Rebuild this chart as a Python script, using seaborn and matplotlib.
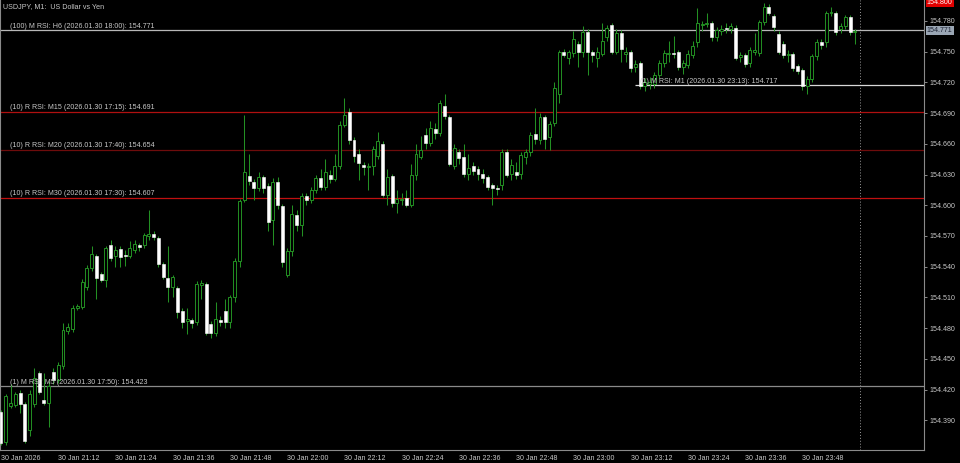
import numpy as np
import pandas as pd
import seaborn as sns
import matplotlib.pyplot as plt
from matplotlib.transforms import blended_transform_factory

# --- data: USDJPY M1, 30 Jan 2026 21:00 - 23:59 (prices in points above 154.000)
BASE = 154.0
open_pts = [398, 369, 404, 405, 417, 406, 380, 406, 436, 410,
            407, 437, 429, 443, 477, 479, 500, 501, 520, 539,
            550, 533, 527, 561, 550, 557, 551, 550, 556, 561,
            561, 570, 572, 568, 543, 529, 520, 519, 497, 487,
            488, 486, 522, 523, 484, 475, 488, 497, 486, 510,
            546, 605, 629, 623, 617, 628, 619, 586, 623, 599,
            532, 555, 590, 581, 609, 605, 615, 627, 618, 630,
            626, 638, 678, 691, 664, 650, 639, 637, 638, 648,
            660, 610, 629, 602, 605, 607, 600, 630, 647, 669,
            661, 674, 671, 697, 686, 638, 652, 647, 631, 638,
            635, 631, 628, 620, 617, 620, 652, 631, 632, 631,
            647, 652, 670, 664, 686, 667, 680, 709, 750, 744,
            749, 758, 750, 769, 750, 744, 748, 764, 776, 750,
            768, 748, 750, 735, 739, 716, 718, 718, 727, 739,
            748, 749, 750, 735, 737, 747, 759, 776, 777, 778,
            764, 770, 773, 772, 773, 745, 747, 739, 750, 749,
            779, 794, 785, 767, 758, 747, 748, 736, 732, 716,
            723, 746, 759, 759, 788, 788, 772, 775, 784, 769]
high_pts = [400, 416, 425, 418, 420, 408, 420, 441, 438, 436,
            428, 441, 447, 485, 485, 503, 504, 528, 542, 560,
            552, 535, 560, 566, 560, 560, 556, 565, 566, 563,
            573, 595, 575, 570, 545, 560, 532, 521, 500, 500,
            490, 526, 527, 525, 487, 505, 492, 508, 512, 548,
            606, 688, 650, 626, 632, 630, 622, 627, 628, 601,
            558, 600, 595, 612, 612, 618, 630, 635, 645, 634,
            650, 682, 705, 695, 667, 655, 642, 641, 658, 672,
            663, 635, 631, 615, 612, 615, 640, 660, 668, 675,
            682, 680, 703, 709, 688, 660, 655, 660, 650, 642,
            638, 635, 630, 622, 620, 655, 655, 645, 642, 652,
            655, 672, 695, 690, 688, 682, 720, 752, 753, 752,
            770, 760, 775, 772, 752, 755, 778, 776, 778, 772,
            771, 755, 752, 742, 741, 724, 725, 730, 742, 752,
            760, 765, 752, 742, 752, 760, 793, 780, 788, 780,
            774, 776, 778, 778, 776, 750, 749, 755, 768, 781,
            798, 797, 787, 770, 760, 752, 750, 738, 734, 726,
            748, 762, 762, 790, 794, 790, 778, 786, 786, 772]
low_pts = [366, 366, 402, 403, 397, 368, 375, 403, 416, 405,
           383, 425, 426, 440, 474, 476, 498, 499, 517, 536,
           508, 525, 520, 546, 540, 540, 541, 548, 553, 555,
           558, 566, 566, 540, 528, 505, 510, 490, 480, 474,
           480, 483, 508, 473, 470, 472, 482, 480, 480, 505,
           540, 603, 620, 605, 614, 612, 575, 561, 596, 540,
           530, 550, 575, 570, 600, 602, 612, 615, 615, 622,
           624, 635, 676, 660, 642, 625, 630, 615, 630, 645,
           608, 600, 598, 592, 600, 598, 598, 625, 645, 655,
           658, 665, 668, 684, 638, 635, 640, 628, 625, 630,
           625, 622, 615, 600, 610, 615, 628, 625, 626, 626,
           640, 648, 660, 660, 655, 654, 677, 700, 745, 738,
           745, 735, 745, 727, 740, 735, 746, 760, 748, 748,
           740, 740, 730, 730, 714, 712, 714, 715, 724, 735,
           740, 744, 732, 728, 734, 744, 755, 770, 774, 760,
           760, 766, 768, 768, 742, 740, 735, 735, 747, 746,
           776, 786, 770, 748, 744, 740, 731, 728, 713, 709,
           720, 742, 753, 755, 785, 766, 768, 772, 766, 758]
close_pts = [368, 414, 407, 416, 406, 370, 416, 431, 418, 407,
             423, 429, 444, 478, 481, 500, 502, 525, 539, 552,
             529, 527, 558, 548, 556, 549, 550, 558, 562, 559,
             571, 572, 569, 543, 530, 520, 530, 496, 486, 489,
             485, 523, 524, 475, 475, 489, 486, 486, 510, 546,
             604, 632, 624, 617, 628, 617, 584, 623, 600, 545,
             555, 591, 581, 609, 605, 615, 627, 618, 632, 626,
             638, 678, 688, 664, 648, 641, 637, 638, 655, 663,
             610, 628, 602, 606, 605, 600, 630, 650, 654, 661,
             675, 671, 700, 687, 640, 656, 646, 631, 636, 633,
             631, 627, 618, 617, 616, 652, 630, 639, 630, 649,
             652, 669, 665, 686, 665, 679, 715, 750, 747, 750,
             762, 750, 769, 750, 747, 750, 760, 773, 750, 768,
             753, 750, 734, 738, 716, 720, 720, 727, 739, 749,
             749, 748, 735, 739, 748, 756, 778, 777, 778, 764,
             771, 772, 772, 775, 744, 747, 738, 752, 752, 779,
             794, 788, 774, 750, 747, 748, 734, 731, 716, 723,
             746, 759, 757, 788, 789, 769, 775, 784, 769, 770]

time_ticks = [0, 12, 24, 36, 48, 60, 72, 84, 96, 108, 120, 132, 144, 156, 168]
time_labels = ['30 Jan 2026', '30 Jan 21:12', '30 Jan 21:24', '30 Jan 21:36',
               '30 Jan 21:48', '30 Jan 22:00', '30 Jan 22:12', '30 Jan 22:24',
               '30 Jan 22:36', '30 Jan 22:48', '30 Jan 23:00', '30 Jan 23:12',
               '30 Jan 23:24', '30 Jan 23:36', '30 Jan 23:48']

level_prices = [154.771, 154.717, 154.691, 154.654, 154.607, 154.423]
level_texts = ['(100) M RSI: H6 (2026.01.30 18:00): 154.771',
               '(1) M RSI: M1 (2026.01.30 23:13): 154.717',
               '(10) R RSI: M15 (2026.01.30 17:15): 154.691',
               '(10) R RSI: M20 (2026.01.30 17:40): 154.654',
               '(10) R RSI: M30 (2026.01.30 17:30): 154.607',
               '(1) M RSI: M5 (2026.01.30 17:50): 154.423']
level_start = [None, 133, None, None, None, None]   # bar where the level begins
level_colors = ['#b8b8b8', '#d8d8d8', '#b01010', '#6e0c0c', '#c01010', '#8a8a8a']

y_ticks = [154.390, 154.420, 154.450, 154.480, 154.510, 154.540, 154.570,
           154.600, 154.630, 154.660, 154.690, 154.720, 154.750, 154.780]

df = pd.DataFrame({'open': open_pts, 'high': high_pts,
                   'low': low_pts, 'close': close_pts}) / 1000 + BASE
df['bar'] = np.arange(len(df))
df['bull'] = df['close'] >= df['open']

# --- style
sns.set_theme(style='dark', rc={'axes.facecolor': 'black',
                                'figure.facecolor': 'black',
                                'axes.edgecolor': '#8a8a8a',
                                'axes.linewidth': 0.8})
plt.rcParams['font.family'] = ['Liberation Sans', 'DejaVu Sans']

GREEN = '#239023'
TXT = '#c8c8c8'

fig = plt.figure(figsize=(9.6, 4.63), dpi=100)
ax = fig.add_axes([0, 13 / 463, 924 / 960, 450 / 463])

# wicks
ax.vlines(df['bar'], df['low'], df['high'], color=GREEN, linewidth=0.75, zorder=3)
# bodies
body_low = df[['open', 'close']].min(axis=1)
body_h = (df['close'] - df['open']).abs().clip(lower=0.0007)
ax.bar(df['bar'][df['bull']], body_h[df['bull']], bottom=body_low[df['bull']],
       width=0.62, color='black', edgecolor=GREEN, linewidth=0.7, zorder=4)
ax.bar(df['bar'][~df['bull']], body_h[~df['bull']], bottom=body_low[~df['bull']],
       width=0.62, color='white', edgecolor='white', linewidth=0.4, zorder=4)

x_left, x_right = -0.21, 193.5
ax.set_xlim(x_left, x_right)
ax.set_ylim(154.3609, 154.8005)

# RSI levels
for price, text, start, col in zip(level_prices, level_texts, level_start, level_colors):
    x0 = x_left if start is None else start
    ax.hlines(price, x0, x_right, color=col, linewidth=0.9, zorder=2)
    tx = 1.9 if start is None else start + 0.9
    ax.text(tx, price + 0.0006, text, color=TXT, fontsize=5.1,
            va='bottom', ha='left', zorder=5)

# day separator
ax.axvline(180, color='#9a9a9a', linestyle=(0, (1, 2)), linewidth=0.7, zorder=1)

# axes / ticks
ax.yaxis.tick_right()
ax.set_yticks(y_ticks)
ax.set_yticklabels([f'{v:.3f}' for v in y_ticks])
ax.set_xticks(time_ticks)
ax.set_xticklabels(time_labels, ha='left')
ax.tick_params(axis='both', colors='#8a8a8a', labelcolor=TXT, labelsize=5.1,
               length=2.5, width=0.7, direction='out', pad=1.5)
ax.tick_params(axis='x', pad=1)
ax.grid(False)
sns.despine(ax=ax, top=True, right=False, left=False, bottom=False)

# title
ax.text(0.003, 0.994, 'USDJPY, M1:  US Dollar vs Yen', transform=ax.transAxes,
        color=TXT, fontsize=5.1, va='top', ha='left')

# price boxes on the axis
trans = blended_transform_factory(ax.transAxes, ax.transData)
ax.text(1.003, 154.771, '154.771', transform=trans, color='#1c2233', fontsize=5.1,
        va='center', ha='left', clip_on=False,
        bbox=dict(boxstyle='square,pad=0.15', fc='#9aa6b4', ec='none'))
ax.text(1.003, 154.7985, '154.800', transform=trans, color='white', fontsize=5.1,
        va='center', ha='left', clip_on=False,
        bbox=dict(boxstyle='square,pad=0.15', fc='#e00000', ec='none'))

fig.savefig('out.png', dpi=100, facecolor='black')
